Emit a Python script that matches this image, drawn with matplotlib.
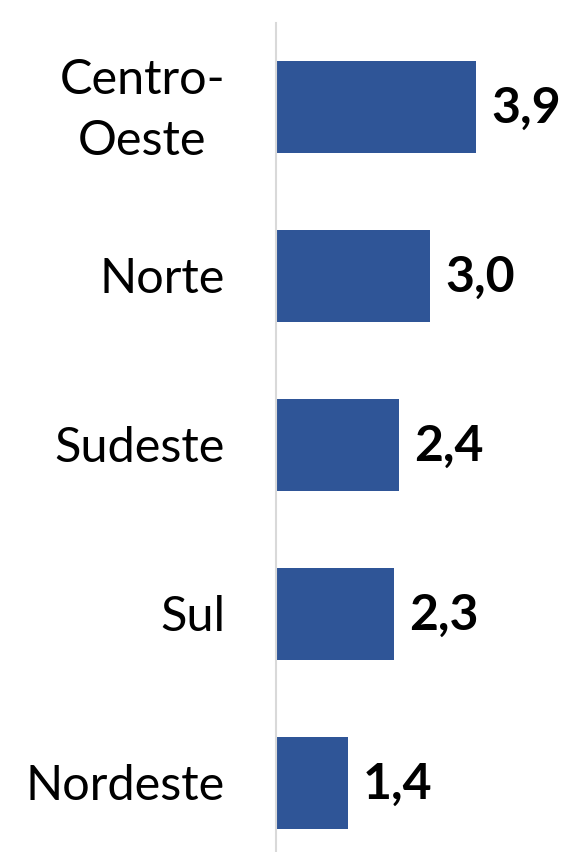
import matplotlib
matplotlib.use("Agg")
import matplotlib.pyplot as plt
import matplotlib.transforms as mtransforms

categories = ["Centro-\nOeste", "Norte", "Sudeste", "Sul", "Nordeste"]
values = [3.9, 3.0, 2.4, 2.3, 1.4]
value_labels = ["3,9", "3,0", "2,4", "2,3", "1,4"]

bar_color = "#2F5597"
font = ["Lato", "DejaVu Sans"]

fig = plt.figure(figsize=(5.63, 8.53), dpi=100)
W, H = 563, 853
left_px, top_px, bottom_px = 276, 24, 868.5
ax = fig.add_axes([left_px / W, (H - bottom_px) / H, 1 - left_px / W, (bottom_px - top_px) / H])

y = list(range(len(categories)))
ax.barh(y, values, height=0.545, color=bar_color)
ax.set_ylim(len(categories) - 0.5, -0.5)
ax.set_xlim(0, (W - left_px) / 51.3)

for yi, v, lab in zip(y, values, value_labels):
    ax.annotate(lab, (v, yi), xytext=(11, 0), textcoords="offset points",
                ha="left", va="center", fontsize=36, fontweight="bold",
                family=font, color="black")

ytrans = ax.get_yaxis_transform()
tr = ytrans + mtransforms.ScaledTranslation(-0.51, -0.02, fig.dpi_scale_trans)
for yi, cat in zip(y, categories):
    ax.text(0, yi, cat, transform=tr, ha="right", va="center",
            multialignment="center", linespacing=1.45,
            fontsize=35, family=font, color="black")

ax.set_yticks([])
ax.set_xticks([])
for s in ["top", "right", "bottom"]:
    ax.spines[s].set_visible(False)
ax.spines["left"].set_color("#D9D9D9")
ax.spines["left"].set_linewidth(1.5)
ax.patch.set_alpha(0)

fig.savefig("out.png", dpi=100)
